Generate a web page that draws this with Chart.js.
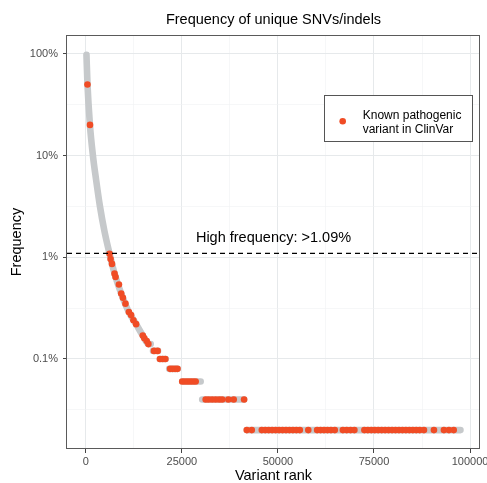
<!DOCTYPE html>
<html>
<head>
<meta charset="utf-8">
<title>Frequency of unique SNVs/indels</title>
<script src="https://cdn.jsdelivr.net/npm/chart.js@4.4.1/dist/chart.umd.min.js"></script>
<style>
  html, body { margin: 0; padding: 0; background: #fff; }
</style>
</head>
<body>
<canvas id="chart" width="487" height="483"></canvas>
<script>
// all variants, ranked by frequency (grey) - continuous part of the curve
const curveRank = [180, 440, 1085, 1860, 2710, 3670, 4830, 6200, 7490, 9220, 11210, 13100, 14830, 16320, 16900];
const curveFreq = [0.98, 0.507, 0.2, 0.1, 0.057, 0.032, 0.0183, 0.0108, 0.0069, 0.0044, 0.0029, 0.0022, 0.0017, 0.0014, 0.0014];

// low frequencies come in discrete steps (allele count / 5000)
const stepFreq = [0.0012, 0.001, 0.0008, 0.0006, 0.0004, 0.0002];
const stepStart = [17500, 19300, 21700, 25100, 30300, 41900];
const stepEnd = [18800, 20800, 23900, 29900, 41200, 97500];

// known pathogenic variants in ClinVar (red)
const clinvarCurveRank = [440, 1100, 6200, 6460, 6820, 7490, 7750, 8630, 9220, 9660, 10330, 11210, 11800, 12400, 13100, 14830, 15240, 15860, 16300];
const clinvarCurveFreq = [0.5, 0.2, 0.0108, 0.0096, 0.0086, 0.0069, 0.0064, 0.0054, 0.0044, 0.004, 0.0035, 0.0029, 0.0027, 0.0024, 0.0022, 0.0017, 0.0016, 0.0015, 0.0014];
const clinvarStepRank = [
  [17750, 18700],
  [19300, 20000, 20700],
  [21950, 22600, 23250, 23870],
  [25100, 25800, 26500, 27200, 27900, 28600],
  [31200, 32000, 32900, 33800, 34700, 35500, 37100, 38500, 41200],
  [41900, 43200, 45800, 46700, 47600, 48500, 49400, 50300, 51200, 52100, 53000, 53900, 54800, 55700,
   57900, 60200, 61100, 62000, 62900, 63800, 64800, 66900, 67900, 68900, 69900,
   72500, 73400, 74300, 75200, 76100, 77000, 77900, 78800, 79700, 80600, 81500, 82400, 83300, 84200,
   85100, 86000, 86900, 88000, 90600, 93200, 94500, 95750]
];

const cutoff = 0.0109;
const cutoffLabel = "High frequency: >1.09%";

const xTicks = [0, 25000, 50000, 75000, 100000];
const xMinor = [12500, 37500, 62500, 87500];
const yTicks = [1, 0.1, 0.01, 0.001];
const yTickLabels = ["100%", "10%", "1%", "0.1%"];
const yMinor = [0.316, 0.0316, 0.00316, 0.000316];

const FONT = "'Liberation Sans', Arial, sans-serif";
const GREY = "#c6c9cb";
const RED = "#f04c25";
const GRID = "#e6e9eb";
const GRID_MINOR = "#f0f2f3";

// grey dataset: curve + steps, null breaks between steps
const greyData = curveRank.map((r, i) => ({ x: r, y: curveFreq[i] }));
stepFreq.forEach((f, i) => {
  greyData.push({ x: stepStart[i] - 1, y: null });
  greyData.push({ x: stepStart[i], y: f });
  greyData.push({ x: stepEnd[i], y: f });
});

const redData = clinvarCurveRank.map((r, i) => ({ x: r, y: clinvarCurveFreq[i] }));
stepFreq.forEach((f, i) => {
  clinvarStepRank[i].forEach(r => redData.push({ x: r, y: f }));
});

const xMin = -4885, xMax = 102585;
const yMin = Math.pow(10, -3.885), yMax = Math.pow(10, 0.185);

const isMajorX = v => xTicks.includes(v);
const isMajorY = v => yTicks.includes(v);

// title, panel border, cutoff label and legend box
const decorations = {
  id: "decorations",
  afterDraw(chart) {
    const { ctx, chartArea: a } = chart;
    const cx = (a.left + a.right) / 2;
    ctx.save();

    ctx.fillStyle = "#000";
    ctx.font = "14.5px " + FONT;
    ctx.textAlign = "center";
    ctx.textBaseline = "alphabetic";
    ctx.fillText("Frequency of unique SNVs/indels", cx, 24);

    const yCut = chart.scales.y.getPixelForValue(cutoff);
    ctx.fillText(cutoffLabel, cx, yCut - 11.5);

    ctx.strokeStyle = "#5a5a5a";
    ctx.lineWidth = 1;
    ctx.strokeRect(a.left - 0.5, a.top + 0.5, a.right - a.left, a.bottom - a.top - 1);

    // legend
    const bw = 148, bh = 46;
    const bx = a.right - 8 - bw, by = a.top + 60;
    ctx.fillStyle = "#fff";
    ctx.fillRect(bx, by, bw, bh);
    ctx.strokeStyle = "#555";
    ctx.strokeRect(bx + 0.5, by + 0.5, bw, bh);
    ctx.fillStyle = RED;
    ctx.beginPath();
    ctx.arc(bx + 18.7, by + 26.3, 3.3, 0, Math.PI * 2);
    ctx.fill();
    ctx.fillStyle = "#000";
    ctx.font = "12px " + FONT;
    ctx.textAlign = "left";
    ctx.fillText("Known pathogenic", bx + 38.7, by + 24.3);
    ctx.fillText("variant in ClinVar", bx + 38.7, by + 37.6);
    ctx.restore();
  }
};

new Chart(document.getElementById("chart"), {
  type: "line",
  data: {
    datasets: [
      {
        data: [{ x: xMin, y: cutoff }, { x: xMax, y: cutoff }],
        borderColor: "#000",
        borderWidth: 1.3,
        borderDash: [5, 4],
        pointRadius: 0,
        order: 1
      },
      {
        label: "Known pathogenic variant in ClinVar",
        data: redData,
        showLine: false,
        pointRadius: 3.3,
        pointBackgroundColor: RED,
        pointBorderWidth: 0,
        order: 2
      },
      {
        data: greyData,
        borderColor: GREY,
        borderWidth: 6.6,
        borderCapStyle: "round",
        borderJoinStyle: "round",
        cubicInterpolationMode: "monotone",
        spanGaps: false,
        pointRadius: 0,
        order: 3
      }
    ]
  },
  options: {
    responsive: false,
    animation: false,
    events: [],
    layout: { padding: { top: 35, right: 7, left: 0, bottom: 0 } },
    plugins: {
      legend: { display: false },
      tooltip: { enabled: false }
    },
    scales: {
      x: {
        type: "linear",
        min: xMin,
        max: xMax,
        bounds: "data",
        afterBuildTicks: scale => {
          scale.ticks = [...xTicks, ...xMinor].sort((a, b) => a - b).map(v => ({ value: v }));
        },
        afterFit: scale => {
          scale.height = 34;
          scale.paddingLeft = 0;
          scale.paddingRight = 0;
        },
        border: { display: false },
        grid: {
          color: c => (isMajorX(c.tick.value) ? GRID : GRID_MINOR),
          lineWidth: c => (isMajorX(c.tick.value) ? 1 : 0.6),
          tickColor: c => (isMajorX(c.tick.value) ? "#444" : "rgba(0,0,0,0)"),
          tickLength: 4,
          tickWidth: 1
        },
        ticks: {
          autoSkip: false,
          maxRotation: 0,
          padding: 2,
          color: "#4d4d4d",
          font: { family: FONT, size: 11 },
          callback: v => (isMajorX(v) ? String(v) : "")
        },
        title: {
          display: true,
          text: "Variant rank",
          color: "#000",
          font: { family: FONT, size: 14.5, lineHeight: 1 },
          padding: { top: 0, bottom: -0.5 }
        }
      },
      y: {
        type: "logarithmic",
        min: yMin,
        max: yMax,
        bounds: "data",
        afterBuildTicks: scale => {
          scale.ticks = [...yTicks, ...yMinor].sort((a, b) => a - b).map(v => ({ value: v }));
        },
        afterFit: scale => {
          scale.width = 67;
          scale.paddingTop = 0;
          scale.paddingBottom = 0;
        },
        border: { display: false },
        grid: {
          color: c => (isMajorY(c.tick.value) ? GRID : GRID_MINOR),
          lineWidth: c => (isMajorY(c.tick.value) ? 1 : 0.6),
          tickColor: c => (isMajorY(c.tick.value) ? "#444" : "rgba(0,0,0,0)"),
          tickLength: 4,
          tickWidth: 1
        },
        ticks: {
          autoSkip: false,
          padding: 5,
          color: "#4d4d4d",
          font: { family: FONT, size: 11 },
          callback: v => {
            const i = yTicks.indexOf(v);
            return i >= 0 ? yTickLabels[i] : "";
          }
        },
        title: {
          display: true,
          text: "Frequency",
          color: "#000",
          font: { family: FONT, size: 14.5, lineHeight: 1.2 },
          padding: { top: 8.5, bottom: 0 }
        }
      }
    }
  },
  plugins: [decorations]
});
</script>
</body>
</html>
